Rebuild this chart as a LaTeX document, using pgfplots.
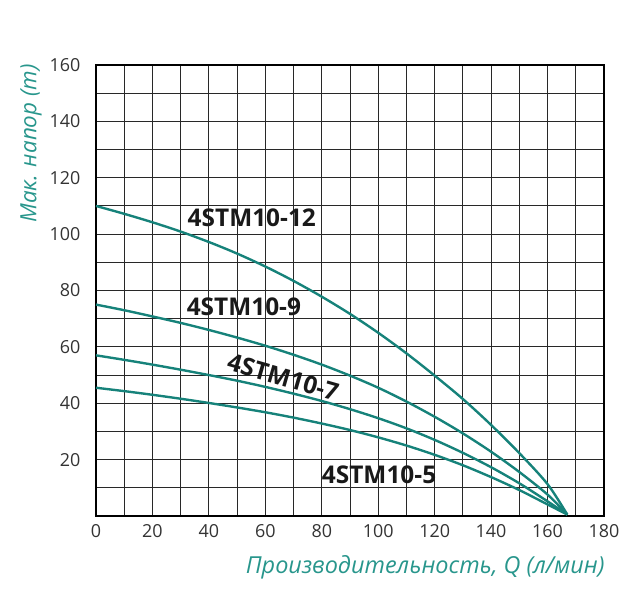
\documentclass[border=0pt]{standalone}
\usepackage{fontspec}
\setmainfont{Open Sans}
\usepackage{pgfplots}
\pgfplotsset{compat=1.18}
\definecolor{curve}{RGB}{22,130,122}
\definecolor{ttl}{RGB}{40,150,140}
\definecolor{gridc}{RGB}{40,40,40}
\begin{document}
\begin{tikzpicture}
\begin{axis}[
  scale only axis, width=508bp, height=451bp,
  anchor=south west, at={(0,0)},
  xmin=0, xmax=180, ymin=0, ymax=160,
  xtick={0,20,...,180}, minor xtick={10,30,...,170},
  ytick={20,40,...,160}, minor ytick={10,30,...,150},
  grid=both,
  major grid style={gridc, line width=0.9pt},
  minor grid style={gridc, line width=0.9pt},
  major tick length=0pt, minor tick length=0pt,
  axis line style={black, line width=1.6pt},
  /pgf/number format/assume math mode=true,
  tick label style={font=\fontsize{18}{21}\selectfont, text=black!80},
  xticklabel style={yshift=-5bp},
  yticklabel style={xshift=-12bp},
  xlabel={\itshape Производительность, Q (л/мин)},
  ylabel={\itshape Мак. напор (m)},
  xlabel style={font=\fontsize{23.5}{27}\selectfont, text=ttl, at={(axis description cs:0.648,-0.113)}, anchor=center},
  ylabel style={font=\fontsize{22.5}{27}\selectfont, text=ttl, at={(axis description cs:-0.128,0.826)}, anchor=center},
  clip=false,
]
\addplot[curve, line width=2.4pt, smooth] coordinates {
(0,110) (10,107.2) (20,104.2) (30,100.9) (40,97.2) (50,93.1) (60,88.5) (70,83.4) (80,77.8) (90,71.7) (100,65) (110,57.7) (120,49.8) (130,41.5) (140,32.3) (150,22.3) (160,11.3) (167,0.5)};
\addplot[curve, line width=2.4pt, smooth] coordinates {
(0,75) (10,73) (20,70.8) (30,68.5) (40,66) (50,63.3) (60,60.4) (70,57.2) (80,53.7) (90,49.8) (100,45.5) (110,40.6) (120,35.2) (130,29.3) (140,22.8) (150,15.6) (160,7.6) (167,0.5)};
\addplot[curve, line width=2.4pt, smooth] coordinates {
(0,57) (10,55.4) (20,53.7) (30,51.9) (40,50) (50,48) (60,45.8) (70,43.4) (80,40.8) (90,37.9) (100,34.7) (110,31.1) (120,27) (130,22.4) (140,17.3) (150,11.6) (160,5.2) (167,0.5)};
\addplot[curve, line width=2.4pt, smooth] coordinates {
(0,45.5) (10,44.3) (20,43) (30,41.6) (40,40.1) (50,38.5) (60,36.8) (70,34.9) (80,32.8) (90,30.5) (100,27.9) (110,25) (120,21.7) (130,18) (140,13.8) (150,9.2) (160,4.1) (167,0.5)};
\node[font=\bfseries\fontsize{24.5}{28}\selectfont, text=black!90] at (axis cs:55.2,105.7) {4STM10-12};
\node[font=\bfseries\fontsize{24.5}{28}\selectfont, text=black!90] at (axis cs:52.4,74.2) {4STM10-9};
\node[font=\bfseries\fontsize{24.5}{28}\selectfont, text=black!90, rotate=-16] at (axis cs:66.3,49.3) {4STM10-7};
\node[font=\bfseries\fontsize{24.5}{28}\selectfont, text=black!90] at (axis cs:100.3,14.5) {4STM10-5};
\end{axis}
\path (-96bp,-87bp) rectangle (541bp,516bp);
\end{tikzpicture}
\end{document}
